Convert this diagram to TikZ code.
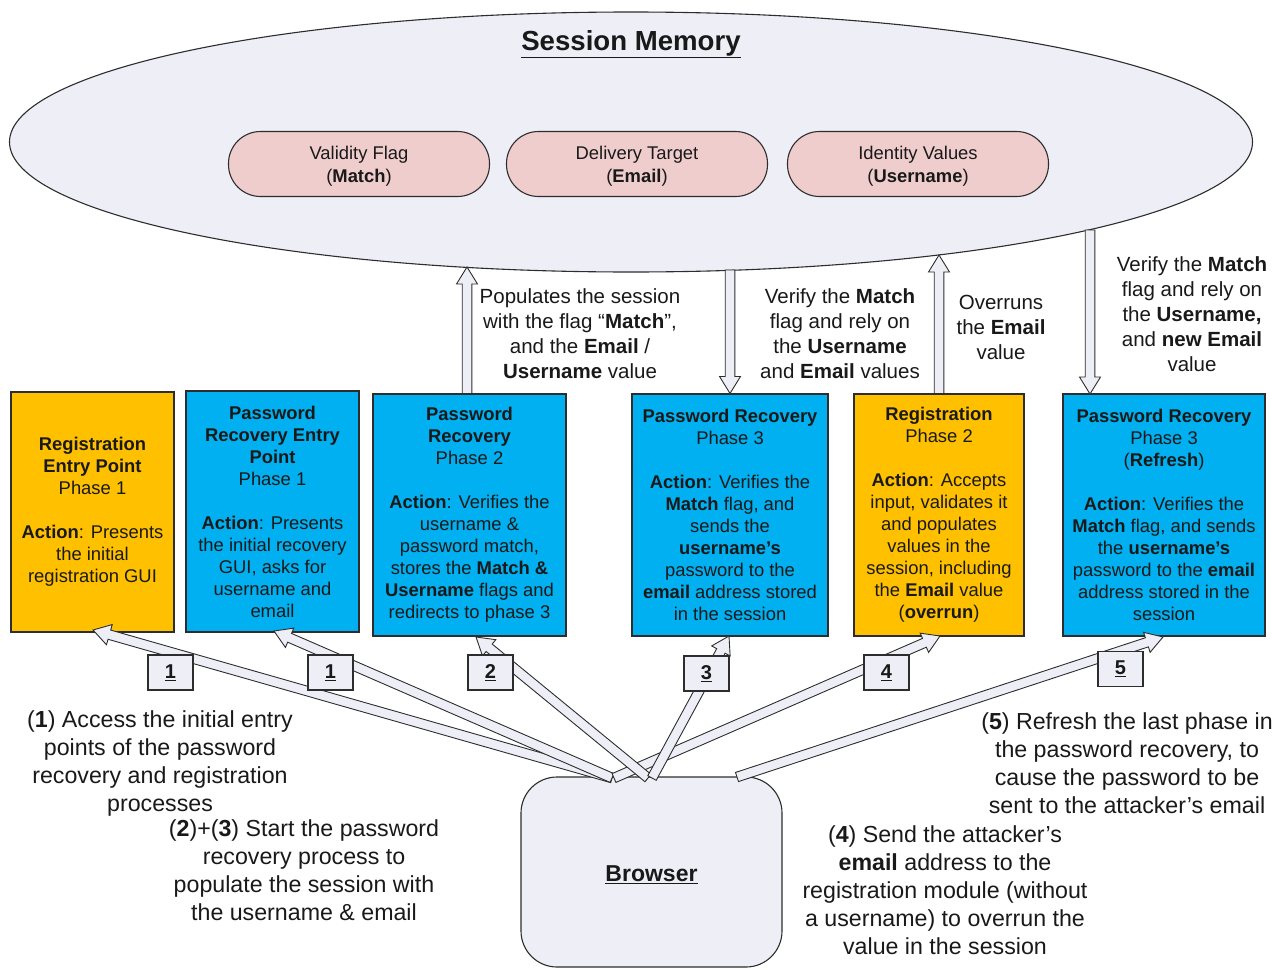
\documentclass[tikz,border=0pt]{standalone}
\usepackage{fontspec}
\setmainfont{Liberation Sans}
\usetikzlibrary{shapes.geometric,calc}

\definecolor{memfill}{RGB}{238,238,247}
\definecolor{pillfill}{RGB}{240,205,205}
\definecolor{orangebox}{RGB}{255,192,0}
\definecolor{bluebox}{RGB}{0,176,240}
\definecolor{edge}{RGB}{45,45,45}
\definecolor{ink}{RGB}{25,25,25}

% hollow block arrow from #1 (tail) to #2 (tip)
\newcommand{\blockarrow}[2]{%
  \coordinate (bah) at ($(#2)!17pt!(#1)$);
  \draw[arrowbody] ($(#1)!4.8pt!90:(#2)$) -- ($(bah)!4.8pt!-90:(#1)$)
    -- ($(bah)!10.5pt!-90:(#1)$) -- (#2) -- ($(bah)!10.5pt!90:(#1)$)
    -- ($(bah)!4.8pt!90:(#1)$) -- ($(#1)!4.8pt!-90:(#2)$) -- cycle;}

\begin{document}
\begin{tikzpicture}[x=1pt,y=-1pt,
  memory/.style={ellipse, draw=edge, line width=1.1pt, fill=memfill,
    minimum width=1243pt, minimum height=260pt, inner sep=0pt},
  pill/.style={draw=edge, line width=1.1pt, fill=pillfill, rounded corners=32pt,
    minimum width=261pt, minimum height=65pt, align=center, inner sep=0pt, text=ink,
    font=\fontsize{18.4}{23}\selectfont},
  pilltext/.style={align=center, inner sep=0pt, text=ink, font=\fontsize{18.4}{23}\selectfont},
  stage/.style={draw=edge, line width=1.1pt, align=center, inner sep=0pt, text=ink,
    font=\fontsize{18.4}{22}\selectfont},
  regbox/.style={stage, fill=orangebox},
  recbox/.style={stage, fill=bluebox},
  arrowbody/.style={draw=edge, fill=memfill, line width=0.9pt, line join=miter},
  tag/.style={draw=edge, fill=memfill, line width=1.1pt, minimum width=45pt,
    minimum height=35pt, inner sep=0pt, text=ink, font=\fontsize{20}{24}\selectfont\bfseries},
  note/.style={align=center, inner sep=0pt, text=ink, font=\fontsize{20.5}{25}\selectfont},
  story/.style={align=center, inner sep=0pt, text=ink, font=\fontsize{23.2}{28}\selectfont},
  client/.style={draw=edge, line width=1.1pt, fill=memfill, rounded corners=36pt,
    minimum width=261pt, minimum height=190pt, inner sep=0pt}]

\useasboundingbox (0,0) rectangle (1282,969);

% session memory
\node[memory] (mem) at (631,142) {};
\node[inner sep=0pt, text=ink, font=\fontsize{27.6}{32}\selectfont\bfseries] (title) at (631,44) {\underline{Session Memory}};
\node[pill] (flag) at (359,164) {};
\node[pill] (target) at (637,164) {};
\node[pill] (ident) at (918,164) {};
\node[pilltext] (flagtxt) at ($(flag)+(0,2)$) {Validity Flag\\(\textbf{Match})};
\node[pilltext] (targettxt) at ($(target)+(0,2)$) {Delivery Target\\(\textbf{Email})};
\node[pilltext] (identtxt) at ($(ident)+(0,2)$) {Identity Values\\(\textbf{Username})};

% application stages
\node[regbox, minimum width=163pt, minimum height=240pt] (b1) at (92.5,512)
  {\textbf{Registration}\\\textbf{Entry Point}\\Phase 1\\[22pt]\textbf{Action}: Presents\\the initial\\registration GUI};
\node[recbox, minimum width=173pt, minimum height=241pt] (b2) at (272.5,511.5)
  {\textbf{Password}\\\textbf{Recovery Entry}\\\textbf{Point}\\Phase 1\\[22pt]\textbf{Action}: Presents\\the initial recovery\\GUI, asks for\\username and\\email};
\node[recbox, minimum width=193pt, minimum height=242pt] (b3) at (469.5,515)
  {\textbf{Password}\\\textbf{Recovery}\\Phase 2\\[22pt]\textbf{Action}: Verifies the\\username \&\\password match,\\stores the \textbf{Match \&}\\\textbf{Username} flags and\\redirects to phase 3};
\node[recbox, minimum width=196pt, minimum height=242pt] (b4) at (730,515)
  {\textbf{Password Recovery}\\Phase 3\\[22pt]\textbf{Action}: Verifies the\\\textbf{Match} flag, and\\sends the\\\textbf{username's}\\password to the\\\textbf{email} address stored\\in the session};
\node[regbox, minimum width=170pt, minimum height=242pt] (b5) at (939,515)
  {\textbf{Registration}\\Phase 2\\[22pt]\textbf{Action}: Accepts\\input, validates it\\and populates\\values in the\\session, including\\the \textbf{Email} value\\(\textbf{overrun})};
\node[recbox, minimum width=202pt, minimum height=242pt] (b6) at (1164,515)
  {\textbf{Password Recovery}\\Phase 3\\(\textbf{Refresh})\\[22pt]\textbf{Action}: Verifies the\\\textbf{Match} flag, and sends\\the \textbf{username's}\\password to the \textbf{email}\\address stored in the\\session};

% session reads and writes
\coordinate (w3) at ($(b3.north)+(-2.5,0)$);
\coordinate (m3) at (467,267);
\coordinate (m4) at (730,270);
\coordinate (m5) at (939,255);
\coordinate (m6) at (1090,230);
\coordinate (r6) at (1090,394);
\blockarrow{w3}{m3}
\blockarrow{m4}{b4.north}
\blockarrow{b5.north}{m5}
\blockarrow{m6}{r6}

\node[note] (n3) at (580,334) {Populates the session\\with the flag “\textbf{Match}”,\\and the \textbf{Email} /\\\textbf{Username} value};
\node[note] (n4) at (840,334) {Verify the \textbf{Match}\\flag and rely on\\the \textbf{Username}\\and \textbf{Email} values};
\node[note] (n5) at (1001,327) {Overruns\\the \textbf{Email}\\value};
\node[note] (n6) at (1192,314) {Verify the \textbf{Match}\\flag and rely on\\the \textbf{Username,}\\and \textbf{new Email}\\value};

% browser requests
\node[client] (browser) at (651.5,872) {};
\node[inner sep=0pt, text=ink, font=\fontsize{23}{27}\selectfont\bfseries] (browsertxt) at ($(browser)+(0,3)$) {\underline{Browser}};
\coordinate (s1) at (612,778);
\coordinate (s2) at (648,778);
\coordinate (s3) at (652,778);
\coordinate (s4) at (614,778);
\coordinate (s5) at (737,777);
\coordinate (e1a) at (93,630);
\coordinate (e1b) at (274,631);
\coordinate (e2) at (476,637);
\coordinate (e3) at (729,636);
\coordinate (e4) at (940,636);
\coordinate (e5) at (1163,637);
\blockarrow{s1}{e1a}
\blockarrow{s1}{e1b}
\blockarrow{s4}{e4}
\blockarrow{s5}{e5}
\blockarrow{s2}{e2}
\blockarrow{s3}{e3}

\node[tag] (t1a) at (170.5,672.5) {\underline{1}};
\node[tag] (t1b) at (330.5,672.5) {\underline{1}};
\node[tag] (t2) at (490.5,672.5) {\underline{2}};
\node[tag] (t3) at (706.5,673.5) {\underline{3}};
\node[tag] (t4) at (886.5,672.5) {\underline{4}};
\node[tag] (t5) at (1120.5,669) {\underline{5}};

% step descriptions
\node[story] (d1) at (160,763) {(\textbf{1}) Access the initial entry\\points of the password\\recovery and registration\\processes};
\node[story] (d23) at (304,870) {(\textbf{2})+(\textbf{3}) Start the password\\recovery process to\\populate the session with\\the username \& email};
\node[story] (d4) at (945,890) {(\textbf{4}) Send the attacker’s\\\textbf{email} address to the\\registration module (without\\a username) to overrun the\\value in the session};
\node[story] (d5) at (1127,763) {(\textbf{5}) Refresh the last phase in\\the password recovery, to\\cause the password to be\\sent to the attacker’s email};
\end{tikzpicture}
\end{document}
